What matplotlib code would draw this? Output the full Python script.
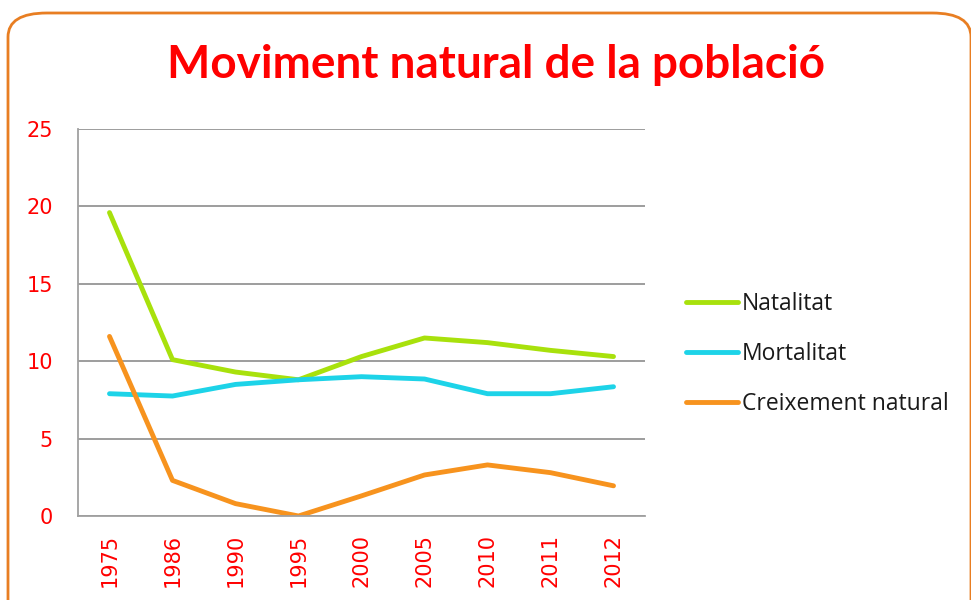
import matplotlib.pyplot as plt
from matplotlib.patches import FancyBboxPatch

years = ["1975", "1986", "1990", "1995", "2000", "2005", "2010", "2011", "2012"]
natalitat = [19.6, 10.1, 9.3, 8.8, 10.3, 11.5, 11.2, 10.7, 10.3]
mortalitat = [7.9, 7.75, 8.5, 8.8, 9.0, 8.85, 7.9, 7.9, 8.35]
creixement = [11.6, 2.3, 0.8, 0.0, 1.3, 2.65, 3.3, 2.8, 1.95]

fig = plt.figure(figsize=(9.71, 6), dpi=100)

# rounded orange frame
frame = FancyBboxPatch((8 / 971, -0.1), (963 / 971), (587 / 600) + 0.1,
                       boxstyle="round,pad=0,rounding_size=0.04",
                       transform=fig.transFigure, facecolor="none",
                       edgecolor="#E87E22", linewidth=2, zorder=0)
fig.patches.append(frame)

ax = fig.add_axes([78 / 971, 84 / 600, 567 / 971, 387 / 600])
ax.set_facecolor("none")

x = range(len(years))
ax.plot(x, natalitat, color="#A8E10C", lw=3.5, label="Natalitat", solid_capstyle="round")
ax.plot(x, mortalitat, color="#1DD3E8", lw=3.5, label="Mortalitat", solid_capstyle="round")
ax.plot(x, creixement, color="#F7931E", lw=3.5, label="Creixement natural", solid_capstyle="round")

ax.set_xlim(-0.5, len(years) - 0.5)
ax.set_ylim(0, 25)
ax.set_yticks([0, 5, 10, 15, 20, 25])
ax.set_xticks(list(x))
ax.set_xticklabels(years, rotation=90)
ax.tick_params(axis="both", colors="red", labelsize=15, length=0)
ax.tick_params(axis="y", pad=18)
ax.tick_params(axis="x", pad=13)
ax.grid(axis="y", color="#8C8C8C", lw=1.2)
ax.set_axisbelow(True)
for s in ["top", "right"]:
    ax.spines[s].set_visible(False)
for s in ["left", "bottom"]:
    ax.spines[s].set_color("#A0A0A0")
    ax.spines[s].set_linewidth(1.3)

fig.text(496 / 971, 1 - 65 / 600, "Moviment natural de la població", color="red",
         fontsize=33, fontweight="bold", family="Lato", ha="center", va="center")

ax.legend(loc="center left", bbox_to_anchor=(665 / 971, 1 - 354 / 600),
          bbox_transform=fig.transFigure, frameon=False,
          handlelength=2.3, handletextpad=0.15, labelspacing=1.15,
          prop={"family": "Open Sans", "size": 16.5}, labelcolor="#1a1a1a")

fig.savefig("out.png", dpi=100)
